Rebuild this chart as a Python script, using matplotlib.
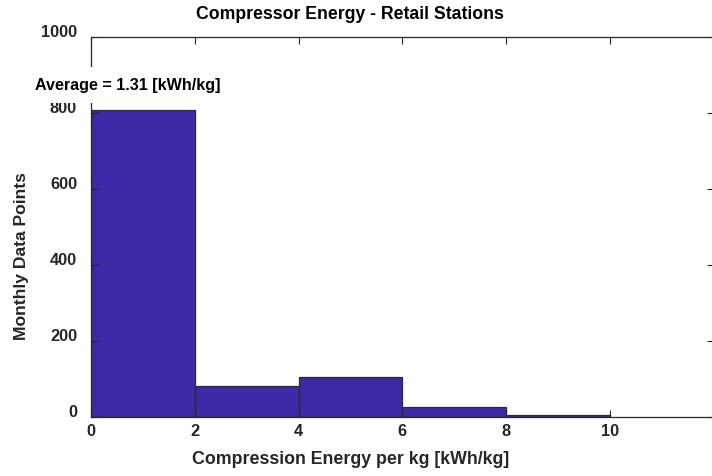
import matplotlib.pyplot as plt
from matplotlib.transforms import ScaledTranslation

plt.rcParams['font.family'] = ['Liberation Sans', 'DejaVu Sans']
plt.rcParams['font.weight'] = 'bold'

# histogram bins [kWh/kg] and counts
bin_edges = [0, 2, 4, 6, 8, 10]
counts = [808, 82, 106, 26, 5]
average = 1.31

fig = plt.figure(figsize=(7.12, 4.76), dpi=100)
ax = fig.add_axes([0.1278, 0.124, 0.8745, 0.7985])

lefts = bin_edges[:-1]
widths = [b - a for a, b in zip(bin_edges[:-1], bin_edges[1:])]
ax.bar(lefts, counts, width=widths, align='edge', color='#3d29a6',
       edgecolor='#2b2b2b', linewidth=0.9)

ax.set_xlim(0, 12)
ax.set_ylim(0, 1000)
ax.set_xticks([0, 2, 4, 6, 8, 10])
ax.set_yticks([0, 200, 400, 600, 800, 1000])

ax.tick_params(direction='in', top=True, right=True, length=5,
               labelsize=11.8, colors='#262626')
ax.tick_params(axis='y', pad=10)
ax.tick_params(axis='x', pad=5)
# matlab-style: y labels sit a little above their ticks
shift = ScaledTranslation(0, 4.5 / 72, fig.dpi_scale_trans)
for lab in ax.get_yticklabels():
    lab.set_transform(lab.get_transform() + shift)
    lab.set_fontweight('bold')
for lab in ax.get_xticklabels():
    lab.set_fontweight('bold')

for s in ax.spines.values():
    s.set_color('#262626')
    s.set_linewidth(0.9)

fig.text(0.493, 0.034, 'Compression Energy per kg [kWh/kg]', ha='center',
         va='center', fontsize=12.8, fontweight='bold', color='#262626')
fig.text(0.03, 0.462, 'Monthly Data Points', rotation=90, ha='center',
         va='center', fontsize=12.6, fontweight='bold', color='#262626')

fig.text(0.492, 0.97, 'Compressor Energy - Retail Stations', ha='center',
         va='center', fontsize=12.7, fontweight='bold')

# white box hides part of the axis line and the 800 label, as in the original
ax.text(-0.0904, 873, 'Average = %.2f [kWh/kg]' % average,
        transform=ax.get_yaxis_transform(), ha='left', va='center',
        fontsize=11.6, fontweight='bold', clip_on=False, zorder=10,
        bbox=dict(facecolor='white', edgecolor='none', pad=7.5))

fig.savefig('out.png', dpi=100)
